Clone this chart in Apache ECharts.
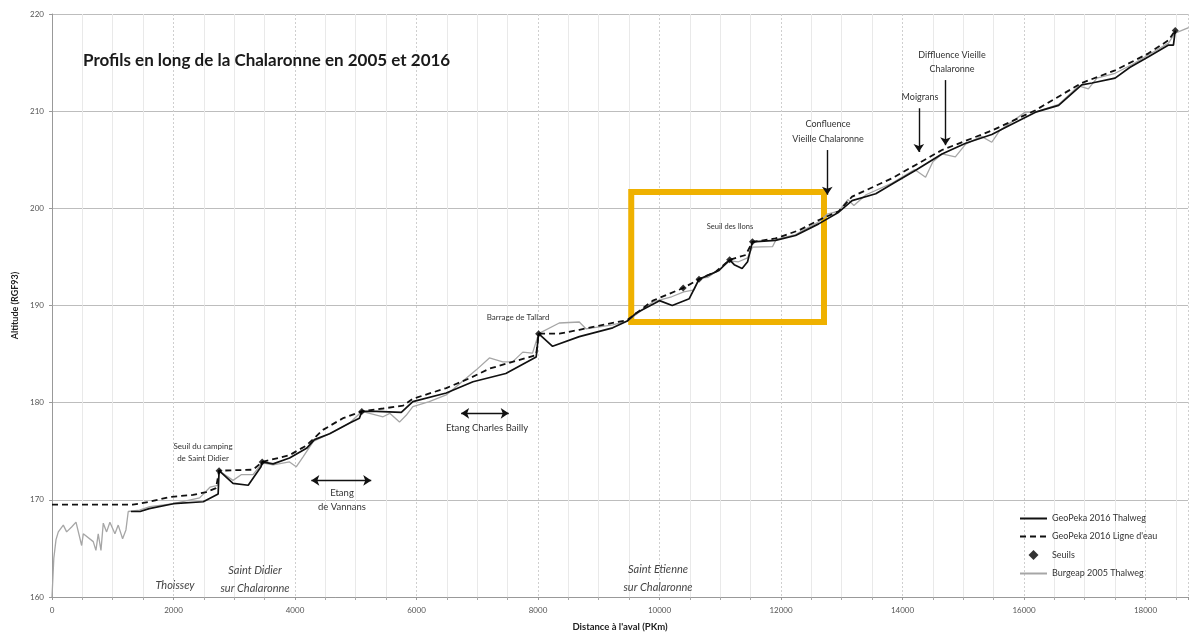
<!DOCTYPE html>
<html>
<head>
<meta charset="utf-8">
<script src="https://cdn.jsdelivr.net/npm/echarts@6/dist/echarts.min.js"></script>
<style>
html,body{margin:0;padding:0;background:#fff;}
#chart{width:1192px;height:641px;}
</style>
</head>
<body>
<div id="chart"></div>
<script>
// ---- Data (distance in m, altitude in m RGF93) ----
const thalweg2016 = [
  [1300,168.8],[1450,168.8],[1600,169.1],[2000,169.6],[2490,169.8],[2735,170.6],[2750,173.0],
  [2980,171.7],[3230,171.5],[3440,173.4],[3460,173.9],[3640,173.7],[3910,174.3],[4190,175.3],
  [4320,176.2],[4570,176.8],[4900,177.9],[5060,178.4],[5100,179.1],[5340,179.1],[5750,179.0],
  [5940,180.1],[6490,181.0],[6930,182.15],[7470,183.0],[7970,184.7],[8010,187.1],[8240,185.8],
  [8680,186.8],[9230,187.7],[9470,188.4],[9610,189.2],[10000,190.5],[10210,190.0],[10490,190.7],
  [10650,192.7],[10760,193.0],[10980,193.6],[11155,194.7],[11230,194.2],[11360,193.8],[11450,194.5],
  [11530,196.55],[11910,196.7],[12240,197.2],[12620,198.4],[12950,199.6],[13170,200.8],[13560,201.5],
  [13830,202.5],[14210,203.9],[14650,205.6],[15040,206.7],[15470,207.6],[15750,208.5],[16190,209.9],
  [16570,210.6],[16950,212.7],[17120,212.9],[17500,213.4],[17740,214.5],[18050,215.6],[18380,216.8],
  [18460,216.8],[18490,218.3]
];
const ligneEau2016 = [
  [0,169.5],[1330,169.5],[1600,169.8],[1940,170.3],[2320,170.5],[2540,170.8],[2700,171.2],[2750,173.0],
  [3310,173.1],[3460,173.9],[3910,174.6],[4190,175.6],[4460,177.2],[4790,178.4],[5100,179.1],
  [5450,179.4],[5780,179.7],[5940,180.4],[6490,181.5],[6870,182.5],[7200,183.5],[7580,184.2],
  [7970,184.9],[8010,187.1],[8350,187.1],[8680,187.5],[9230,188.2],[9470,188.5],[9890,190.5],
  [10390,191.8],[10650,192.7],[10930,193.5],[11155,194.7],[11420,195.2],[11530,196.55],[11910,196.9],
  [12300,197.75],[12625,198.8],[12950,199.7],[13170,201.2],[13830,203.1],[14650,206.0],[15470,208.0],
  [16190,210.1],[16950,212.9],[17500,214.2],[18050,215.95],[18380,217.3],[18490,218.3]
];
const seuils = [
  [2750,173.0],[3460,173.9],[5100,179.1],[8010,187.1],[10390,191.8],[10650,192.7],
  [11155,194.7],[11530,196.55],[18490,218.3]
];
const burgeap2005 = [
  [0,160.0],[30,164.0],[66,165.9],[104,166.7],[186,167.4],[241,166.7],[323,167.2],[395,167.7],
  [488,165.3],[515,166.5],[679,165.7],[723,164.8],[761,166.5],[806,164.8],[844,167.6],[899,166.7],
  [953,167.7],[1036,166.5],[1090,167.4],[1162,166.0],[1217,166.9],[1255,168.8],[1440,168.95],
  [1610,169.3],[2000,169.6],[2430,170.2],[2600,171.3],[2730,171.5],[2750,173.0],[2980,172.0],
  [3120,172.6],[3310,172.6],[3460,173.8],[3640,173.6],[3910,173.9],[4020,173.4],[4130,174.4],
  [4300,176.0],[4570,176.8],[4900,177.9],[5100,179.1],[5450,178.55],[5560,178.9],[5720,178.0],
  [5830,178.7],[5940,179.6],[6210,180.1],[6490,180.8],[6980,183.35],[7200,184.6],[7420,184.2],
  [7580,184.2],[7750,185.2],[7910,185.1],[8010,187.1],[8350,188.2],[8680,188.3],[8790,187.6],
  [9230,188.0],[9470,188.4],[9900,190.4],[10200,190.9],[10400,191.4],[10570,191.6],[10650,192.8],
  [10800,192.9],[11000,193.8],[11160,194.6],[11300,194.5],[11450,194.9],[11530,196.0],[11860,196.05],
  [11920,196.8],[12240,197.3],[12620,198.6],[12760,199.4],[12950,199.7],[13100,200.9],[13200,200.3],
  [13400,201.4],[13830,202.6],[14200,204.0],[14380,203.2],[14500,204.8],[14650,205.6],[14870,205.3],
  [15040,206.6],[15300,207.4],[15470,206.8],[15600,208.0],[16020,209.9],[16190,209.9],[16570,210.7],
  [16900,212.6],[17060,212.3],[17200,213.4],[17500,213.9],[17780,214.8],[18050,215.8],[18380,217.0],
  [18480,218.0],[18710,218.6]
];
const seriesNames = ['GeoPeka 2016 Thalweg','GeoPeka 2016 Ligne d\'eau','Seuils','Burgeap 2005 Thalweg'];
const xTicks = {min:0, max:18700, interval:2000};
const yTicks = {min:160, max:220, interval:10};

const FONT = 'Lato, "Open Sans", sans-serif';
const chart = echarts.init(document.getElementById('chart'), null, {renderer:'canvas'});

function txt(x, y, text, size, extra) {
  return {
    type:'text', x:x, y:y, z:50,
    style: Object.assign({text:text, fontFamily:FONT, fontSize:size, fill:'#333',
      align:'center', verticalAlign:'middle', lineHeight:size*1.6}, extra||{})
  };
}

const arrowStyle = {color:'#111', width:1.4, type:'solid'};
const hiddenSym = {opacity:0, borderWidth:0};

chart.setOption({
  animation:false,
  backgroundColor:'#fff',
  title:{
    text:'Profils en long de la Chalaronne en 2005 et 2016',
    left:78, top:47,
    textStyle:{fontFamily:FONT, fontSize:17, fontWeight:'bold', color:'#1a1a1a'}
  },
  grid:{left:52, right:4, top:14, bottom:44, containLabel:false},
  legend:{
    data:[
      {name:seriesNames[0], itemStyle:hiddenSym},
      {name:seriesNames[1], itemStyle:hiddenSym},
      {name:seriesNames[2], icon:'path://M5,0 L10,5 L5,10 L0,5 Z'},
      {name:seriesNames[3], itemStyle:hiddenSym}
    ],
    orient:'vertical', left:1014, top:509,
    itemWidth:27, itemHeight:10, itemGap:9, symbolKeepAspect:true,
    textStyle:{fontFamily:FONT, fontSize:9, color:'#333'}
  },
  xAxis:{
    type:'value', min:xTicks.min, max:xTicks.max, interval:xTicks.interval,
    name:'Distance à l\'aval (PKm)', nameLocation:'middle', nameGap:25,
    nameTextStyle:{fontFamily:FONT, fontSize:9.5, fontWeight:'bold', color:'#222'},
    axisLine:{lineStyle:{color:'#999'}},
    axisTick:{show:true, length:3, lineStyle:{color:'#999'}},
    minorTick:{show:true, splitNumber:4, length:3, lineStyle:{color:'#aaa'}},
    axisLabel:{fontFamily:FONT, fontSize:8, color:'#555', margin:9, showMaxLabel:false,
      formatter:function(v){return String(v);}},
    splitLine:{show:true, lineStyle:{color:'#cfcfcf', type:[2,2]}},
    minorSplitLine:{show:true, lineStyle:{color:'#e9e9e9'}}
  },
  yAxis:{
    type:'value', min:yTicks.min, max:yTicks.max, interval:yTicks.interval,
    name:'Altitude (RGF93)', nameLocation:'middle', nameGap:31, nameRotate:90,
    nameTextStyle:{fontFamily:FONT, fontSize:9, fontWeight:'bold', color:'#222'},
    axisLine:{show:true, lineStyle:{color:'#999'}},
    axisTick:{show:true, length:3, lineStyle:{color:'#999'}},
    axisLabel:{fontFamily:FONT, fontSize:8, color:'#555', margin:8},
    splitLine:{show:true, lineStyle:{color:'#bdbdbd'}}
  },
  series:[
    {
      name:seriesNames[3], type:'line', data:burgeap2005, symbol:'none', z:2,
      lineStyle:{color:'#a6a6a6', width:1.3}, itemStyle:{color:'#a6a6a6'}
    },
    {
      name:seriesNames[1], type:'line', data:ligneEau2016, symbol:'none', z:3,
      lineStyle:{color:'#111', width:1.8, type:[6,4]}, itemStyle:{color:'#111'}
    },
    {
      name:seriesNames[0], type:'line', data:thalweg2016, symbol:'none', z:4,
      lineStyle:{color:'#111', width:1.7}, itemStyle:{color:'#111'},
      markLine:{
        silent:true, symbol:['none','arrow'], symbolSize:8,
        label:{show:false}, lineStyle:arrowStyle,
        data:[
          [{coord:[12762,206.0]},{coord:[12762,201.4]}],
          [{coord:[14269,210.3]},{coord:[14269,205.8]}],
          [{coord:[14708,213.2]},{coord:[14708,206.5]}],
          [{coord:[6735,178.9], symbol:'arrow'},{coord:[7518,178.9]}],
          [{coord:[4269,172.0], symbol:'arrow'},{coord:[5255,172.0]}]
        ]
      }
    },
    {
      name:seriesNames[2], type:'scatter', data:seuils, symbol:'diamond', symbolSize:7, z:5,
      itemStyle:{color:'#000'}
    },
    {
      name:'zone', type:'line', data:[], z:20, symbol:'none',
      markArea:{
        silent:true,
        itemStyle:{color:'rgba(0,0,0,0)', borderColor:'#EFB100', borderWidth:6},
        data:[[{coord:[9535,201.67]},{coord:[12708,188.29]}]]
      }
    }
  ],
  graphic:[
    txt(203, 452, 'Seuil du camping\nde Saint Didier', 8, {lineHeight:12}),
    txt(518, 317, 'Barrage de Tallard', 8),
    txt(730, 227, 'Seuil des Ilons', 7.5),
    txt(828, 132, 'Confluence\nVieille Chalaronne', 9, {lineHeight:15}),
    txt(920, 97, 'Moigrans', 9),
    txt(952, 62, 'Diffluence Vieille\nChalaronne', 9, {lineHeight:14}),
    txt(487, 428, 'Etang Charles Bailly', 9.5),
    txt(342, 500, 'Etang\nde Vannans', 9.5, {lineHeight:14}),
    txt(175, 585, 'Thoissey', 11, {fontStyle:'italic', fill:'#444'}),
    txt(255, 579, 'Saint Didier\nsur Chalaronne', 11, {fontStyle:'italic', fill:'#444', lineHeight:18}),
    txt(658, 578, 'Saint Etienne\nsur Chalaronne', 11, {fontStyle:'italic', fill:'#444', lineHeight:18})
  ]
});
</script>
</body>
</html>
